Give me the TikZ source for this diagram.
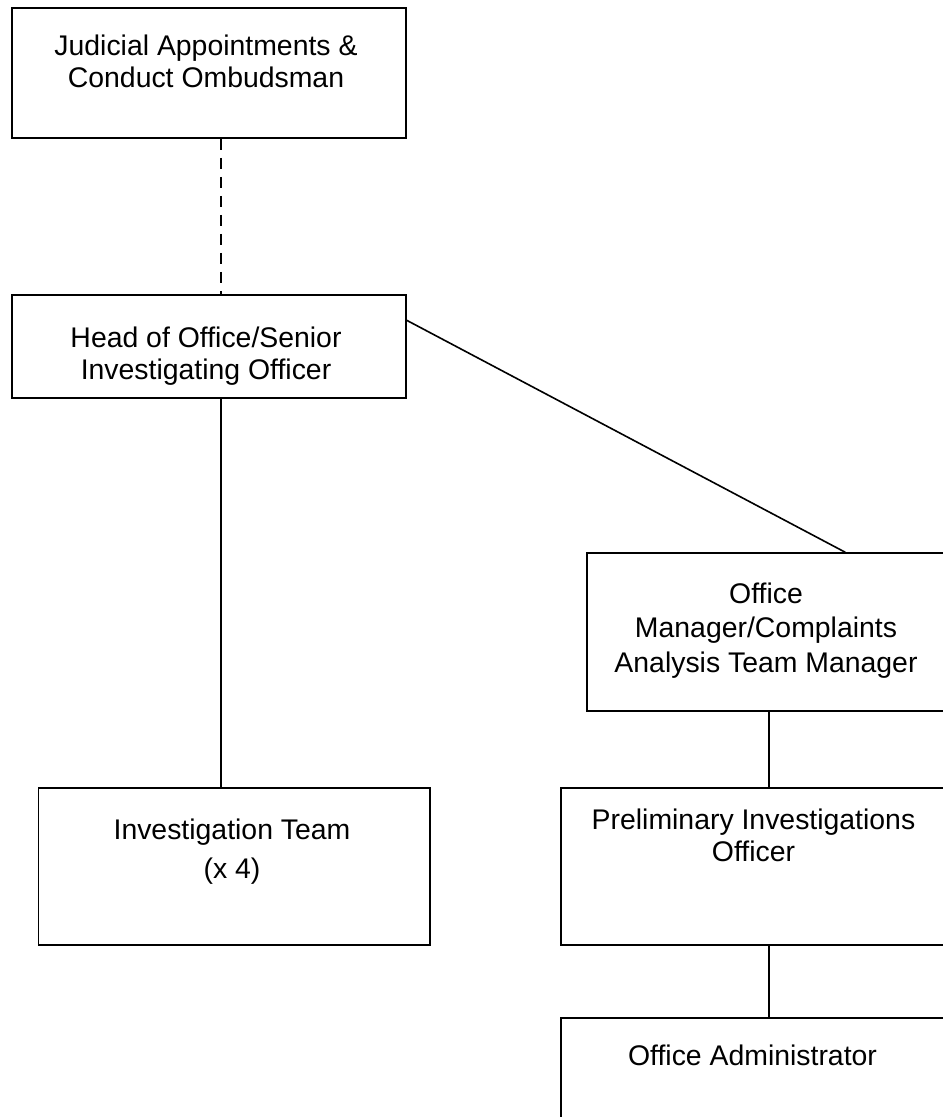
\documentclass[tikz,border=0pt]{standalone}
\usepackage{fontspec}
\setmainfont{Liberation Sans}
\usetikzlibrary{calc}
\begin{document}
\begin{tikzpicture}[
    x=0.5pt, y=-0.5pt,
    box/.style={rectangle, draw=black, line width=0.8pt, inner sep=0pt},
    txt/.style={anchor=north, align=center, inner sep=0pt,
      font=\fontsize{14.2pt}{16pt}\selectfont},
    link/.style={black, line width=0.8pt}]
  \useasboundingbox (0,0) rectangle (942,1117);
  % boxes
  \node[box, minimum width=197pt, minimum height=65pt]   (judge)  at (209,73)     {};
  \node[box, minimum width=197pt, minimum height=51.5pt] (head)   at (209,346.5)  {};
  \node[box, minimum width=195.75pt, minimum height=78.5pt] (team) at (234.25,866.5) {};
  \node[box, minimum width=179pt, minimum height=79pt]   (office) at (766,632)    {};
  \node[box, minimum width=192pt, minimum height=78.5pt] (prelim) at (753,866.5)  {};
  \node[box, minimum width=192pt, minimum height=78.5pt] (admin)  at (753,1096.5) {};
  % texts
  \node[txt] (judge-t)  at (206,35)    {Judicial Appointments \&\\Conduct Ombudsman};
  \node[txt] (head-t)   at (206,327)   {Head of Office/Senior\\Investigating Officer};
  \node[txt] (team-t)   at (232,819)   {Investigation Team\\[3.5pt](x 4)};
  \node[txt] (office-t) at (766,582.5) {Office\\[1.2pt]Manager/Complaints\\[1.2pt]Analysis Team Manager};
  \node[txt] (prelim-t) at (753.5,809) {Preliminary Investigations\\Officer};
  \node[txt] (admin-t)  at (752.5,1045) {Office Administrator};
  % connectors
  \coordinate (lspine) at (221,0);
  \coordinate (rspine) at (769,0);
  \draw[link, dash pattern=on 5.5pt off 4pt] (judge.south -| lspine) -- (head.north -| lspine);
  \draw[link] (head.south -| lspine) -- (team.north -| lspine);
  \draw[link] ($(head.north east)!0.25!(head.south east)$)
    -- ($(office.north west)!0.72!(office.north east)$);
  \draw[link] (office.south -| rspine) -- (prelim.north -| rspine);
  \draw[link] (prelim.south -| rspine) -- (admin.north -| rspine);
\end{tikzpicture}
\end{document}
